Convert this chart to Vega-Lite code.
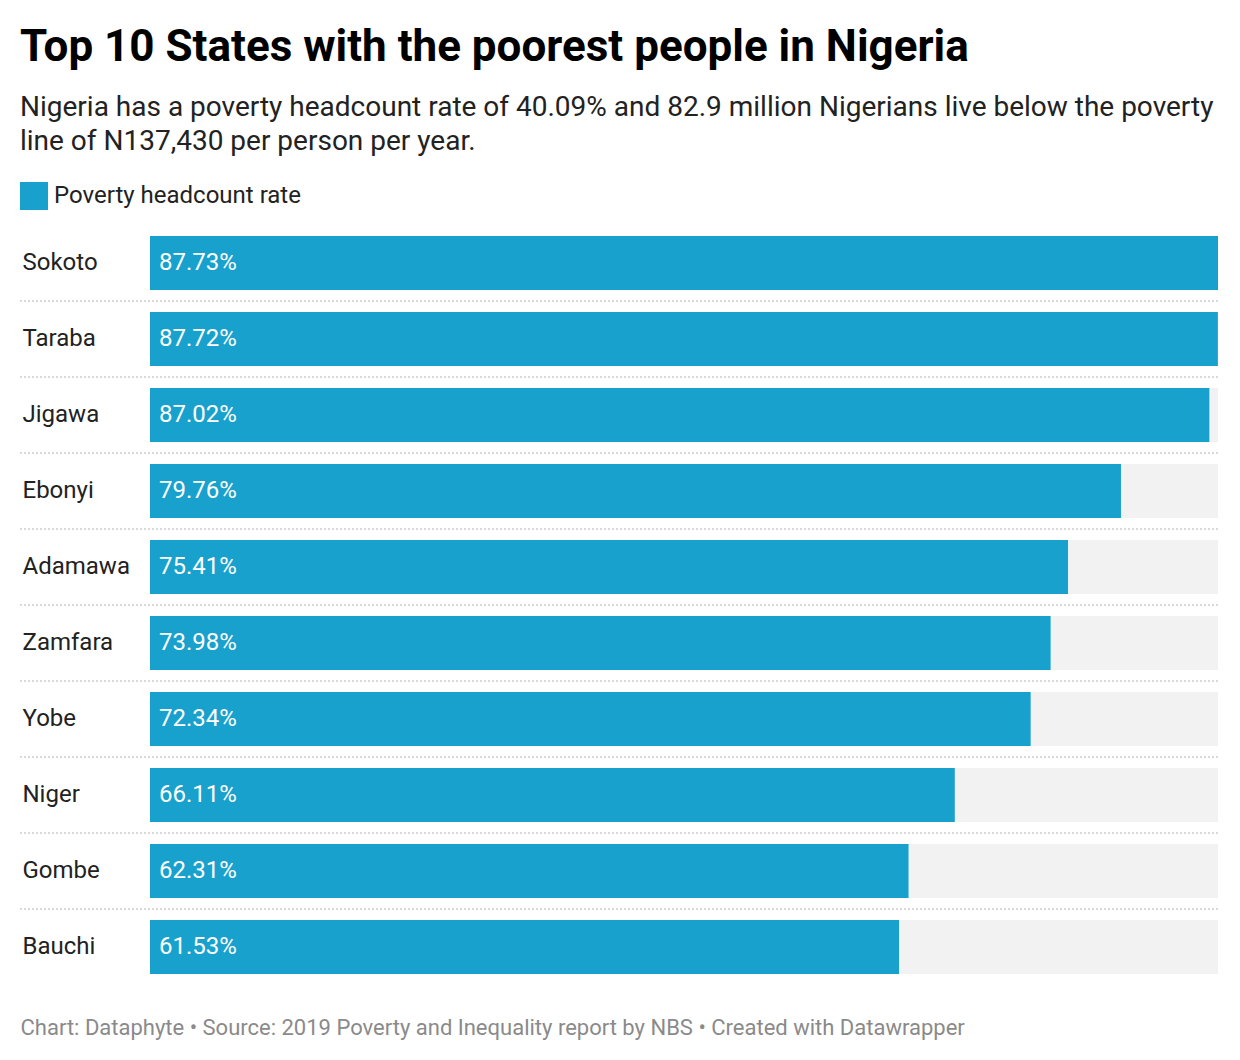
{
  "$schema": "https://vega.github.io/schema/vega-lite/v6.json",
  "width": 1068,
  "height": 760,
  "autosize": {"type": "none"},
  "padding": {"left": 150, "top": 225, "right": 22, "bottom": 75},
  "background": "white",
  "config": {
    "view": {"stroke": null},
    "font": "Roboto"
  },
  "title": {
    "text": "Top 10 States with the poorest people in Nigeria",
    "subtitle": ["Nigeria has a poverty headcount rate of 40.09% and 82.9 million Nigerians live below the poverty", "line of N137,430 per person per year."],
    "anchor": "start",
    "frame": "group",
    "dx": -130,
    "offset": 26,
    "font": "Roboto",
    "fontSize": 44,
    "fontWeight": "bold",
    "color": "#000000",
    "subtitleFont": "Roboto",
    "subtitleFontSize": 28,
    "subtitleColor": "#222222",
    "subtitleLineHeight": 34,
    "subtitlePadding": 24
  },
  "data": {
    "values": [
      {"state": "Sokoto", "rate": 0.8773, "series": "Poverty headcount rate"},
      {"state": "Taraba", "rate": 0.8772, "series": "Poverty headcount rate"},
      {"state": "Jigawa", "rate": 0.8702, "series": "Poverty headcount rate"},
      {"state": "Ebonyi", "rate": 0.7976, "series": "Poverty headcount rate"},
      {"state": "Adamawa", "rate": 0.7541, "series": "Poverty headcount rate"},
      {"state": "Zamfara", "rate": 0.7398, "series": "Poverty headcount rate"},
      {"state": "Yobe", "rate": 0.7234, "series": "Poverty headcount rate"},
      {"state": "Niger", "rate": 0.6611, "series": "Poverty headcount rate"},
      {"state": "Gombe", "rate": 0.6231, "series": "Poverty headcount rate"},
      {"state": "Bauchi", "rate": 0.6153, "series": "Poverty headcount rate"}
    ]
  },
  "encoding": {
    "y": {
      "field": "state",
      "type": "nominal",
      "sort": null,
      "scale": {"paddingInner": 0.2895, "paddingOuter": 0.14475},
      "axis": {
        "title": null,
        "domain": false,
        "ticks": false,
        "grid": false,
        "labelAlign": "left",
        "labelPadding": 128,
        "labelFont": "Roboto",
        "labelFontSize": 24,
        "labelColor": "#222222"
      }
    }
  },
  "layer": [
    {
      "mark": {"type": "bar", "color": "#f2f2f2"},
      "encoding": {
        "x": {"value": 0},
        "x2": {"value": "width"}
      }
    },
    {
      "mark": {"type": "bar"},
      "encoding": {
        "x": {
          "field": "rate",
          "type": "quantitative",
          "scale": {"domain": [0, 0.8773], "nice": false, "zero": true},
          "axis": {
            "orient": "bottom",
            "labels": false,
            "ticks": false,
            "domain": false,
            "grid": false,
            "title": "Chart: Dataphyte • Source: 2019 Poverty and Inequality report by NBS • Created with Datawrapper",
            "titleAnchor": "start",
            "titleAlign": "left",
            "titleX": -130,
            "titleY": 49,
            "titleBaseline": "alphabetic",
            "titleFont": "Roboto",
            "titleFontSize": 22,
            "titleFontWeight": "normal",
            "titleColor": "#8a8a8a",
            "titleLimit": 1200
          }
        },
        "color": {
          "field": "series",
          "type": "nominal",
          "scale": {"range": ["#18a1cd"]},
          "legend": {
            "title": null,
            "orient": "none",
            "legendX": -130,
            "legendY": -43,
            "padding": 0,
            "symbolType": "square",
            "symbolSize": 784,
            "symbolStrokeWidth": 0,
            "labelFont": "Roboto",
            "labelFontSize": 24,
            "labelColor": "#222222",
            "labelOffset": 6,
            "labelLimit": 500
          }
        }
      }
    },
    {
      "transform": [{"filter": "datum.state !== 'Bauchi'"}],
      "mark": {"type": "rule", "color": "#d9d9d9", "strokeWidth": 2, "strokeDash": [2, 2], "yOffset": 38},
      "encoding": {
        "x": {"value": -130},
        "x2": {"value": "width"}
      }
    },
    {
      "mark": {"type": "text", "align": "left", "baseline": "middle", "dx": 9, "color": "white", "font": "Roboto", "fontSize": 24},
      "encoding": {
        "x": {"datum": 0},
        "text": {"field": "rate", "type": "quantitative", "format": ".2%"}
      }
    }
  ]
}
